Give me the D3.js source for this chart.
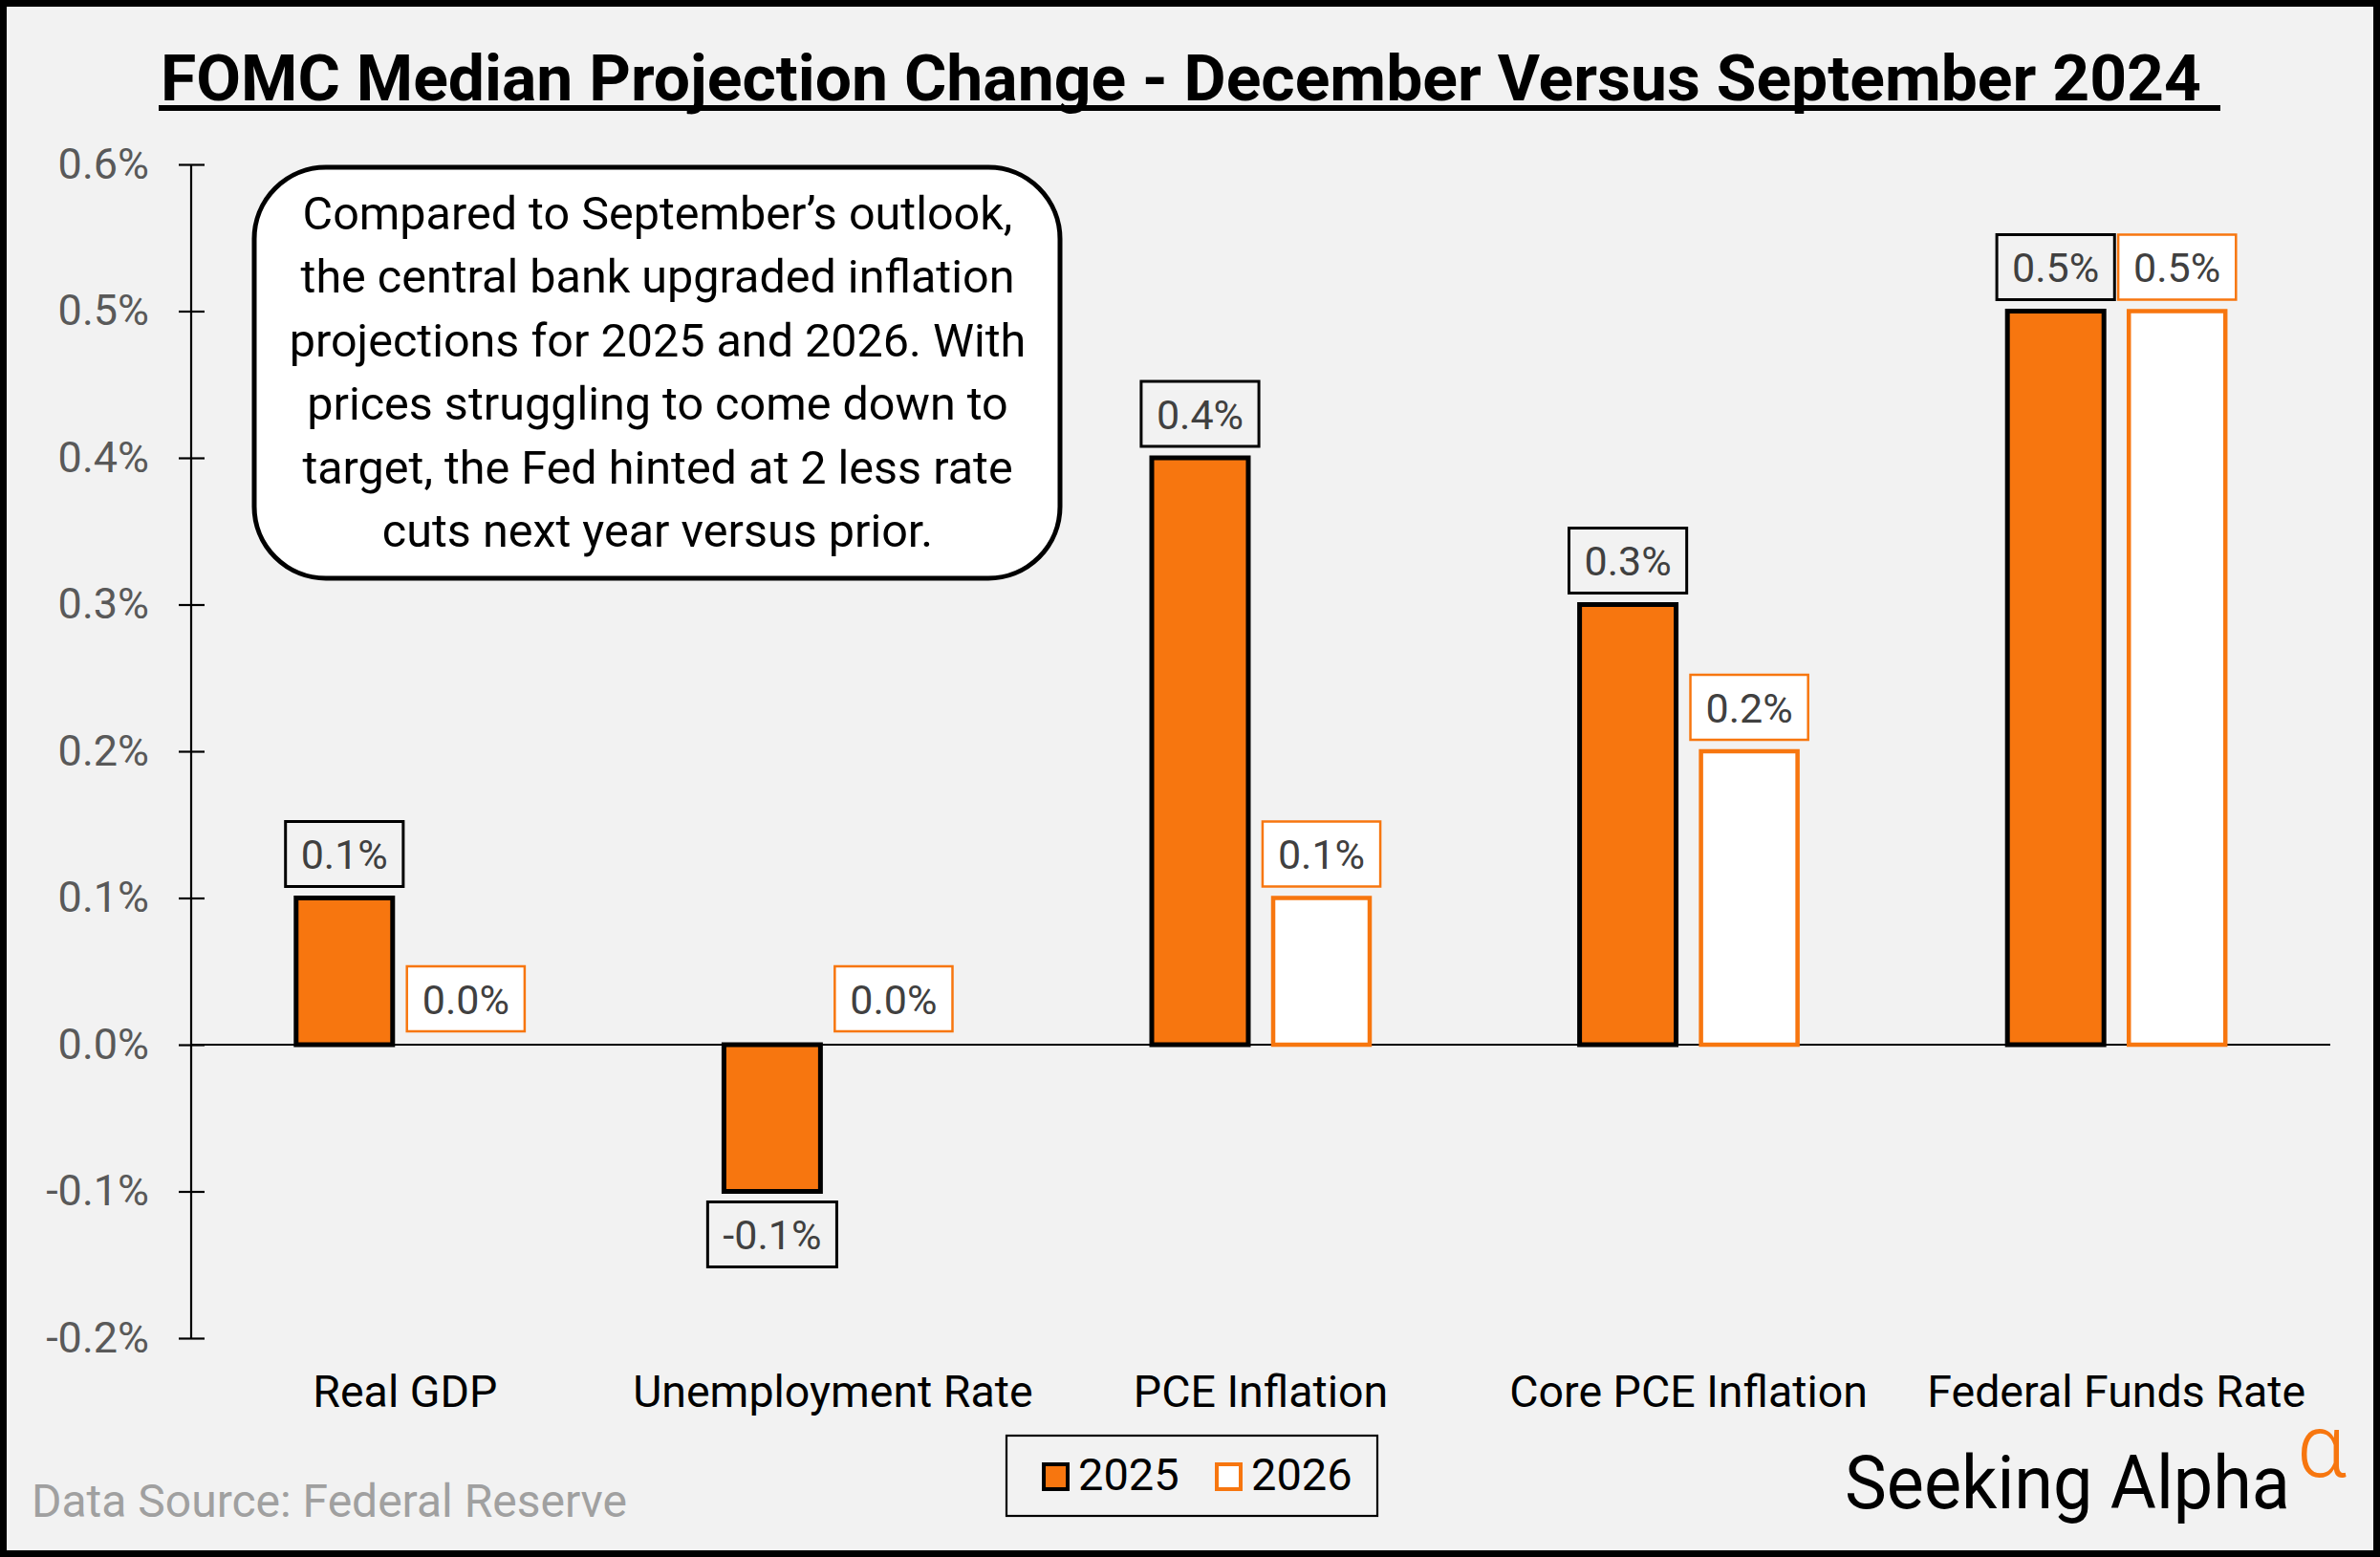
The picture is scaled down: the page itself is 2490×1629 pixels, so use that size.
<!DOCTYPE html>
<html><head><meta charset="utf-8">
<script src="https://cdn.jsdelivr.net/npm/d3@7"></script>
<style>
html,body{margin:0;padding:0;background:#f2f2f2;}
svg{display:block;font-family:Roboto,"Noto Sans",sans-serif;}
</style></head>
<body>
<svg id="chart" width="2490" height="1629"></svg>
<script>
const categories = ["Real GDP","Unemployment Rate","PCE Inflation","Core PCE Inflation","Federal Funds Rate"];
const seriesNames = ["2025","2026"];
const values2025 = [0.1,-0.1,0.4,0.3,0.5];
const values2026 = [0.0,0.0,0.1,0.2,0.5];
const yTicks = [-0.2,-0.1,0.0,0.1,0.2,0.3,0.4,0.5,0.6];
const titleText = "FOMC Median Projection Change - December Versus September 2024";
const noteLines = ["Compared to September\u2019s outlook,","the central bank upgraded inflation","projections for 2025 and 2026. With","prices struggling to come down to","target, the Fed hinted at 2 less rate","cuts next year versus prior."];
const sourceText = "Data Source: Federal Reserve";

const ORANGE = "#f7760f";
const W = 2490, H = 1629;
const svg = d3.select("#chart");
const pct = v => d3.format(".1f")(v).replace("\u2212","-") + "%";

svg.append("rect").attr("x",0).attr("y",0).attr("width",W).attr("height",H)
  .attr("fill","#f2f2f2").attr("stroke","#000").attr("stroke-width",14);

// Title
const title = svg.append("text").attr("x",168).attr("y",105)
  .attr("font-size",67).attr("font-weight",700).attr("fill","#000").text(titleText);
title.attr("textLength",2303-168).attr("lengthAdjust","spacingAndGlyphs");
svg.append("rect").attr("x",166).attr("y",110).attr("width",2323-166).attr("height",6).attr("fill","#000");

const plotL = 200, plotR = 2438;
const y = d3.scaleLinear().domain([-0.2,0.6]).range([1400,172]);
const x0 = d3.scaleBand().domain(categories).range([plotL,plotR]).padding(0);
const bw = x0.bandwidth();
const x1 = d3.scaleBand().domain(seriesNames).range([bw/2-114,bw/2+114]).paddingInner(0.205);

// Y axis
const yAxis = svg.append("g").attr("transform",`translate(${plotL},0)`)
  .call(d3.axisLeft(y).tickValues(yTicks).tickSize(13).tickPadding(31).tickFormat(pct));
yAxis.select(".domain").attr("stroke","#000").attr("stroke-width",2.2).attr("d",`M0,${y(0.6)}V${y(-0.2)}`);
yAxis.selectAll(".tick line").attr("x1",14).attr("stroke","#000").attr("stroke-width",2.2);
yAxis.selectAll(".tick text").attr("font-size",45).attr("fill","#595959").attr("font-family","Roboto");

// Zero line
svg.append("line").attr("x1",plotL).attr("x2",plotR).attr("y1",y(0)).attr("y2",y(0))
  .attr("stroke","#000").attr("stroke-width",2.2);

// Bars
const data = categories.map((c,i)=>({cat:c, vals:[{s:"2025",v:values2025[i]},{s:"2026",v:values2026[i]}]}));
const groups = svg.append("g").selectAll("g").data(data).join("g")
  .attr("transform",d=>`translate(${x0(d.cat)},0)`);
groups.selectAll("rect.bar").data(d=>d.vals.filter(e=>e.v!==0)).join("rect").attr("class","bar")
  .attr("x",d=>x1(d.s)).attr("width",x1.bandwidth())
  .attr("y",d=>y(Math.max(0,d.v))).attr("height",d=>Math.abs(y(d.v)-y(0)))
  .attr("fill",d=>d.s==="2025"?ORANGE:"#fff")
  .attr("stroke",d=>d.s==="2025"?"#000":ORANGE)
  .attr("stroke-width",d=>d.s==="2025"?5:4.5);

// Labels
groups.each(function(d){
  const g = d3.select(this);
  d.vals.forEach(e=>{
    const cx = x1(e.s)+x1.bandwidth()/2;
    const lg = g.append("g");
    const t = lg.append("text").attr("x",cx).attr("text-anchor","middle")
      .attr("font-size",43).attr("fill","#404040").text(pct(e.v));
    const tw = t.node().getComputedTextLength();
    const bh = 68, bwid = tw+32;
    let top = e.v>=0 ? y(e.v)-12-bh : y(e.v)+11;
    if(e.v===0) top = y(0)-14-bh;
    lg.insert("rect","text").attr("x",cx-bwid/2).attr("y",top).attr("width",bwid).attr("height",bh)
      .attr("fill",e.s==="2025"?"#f2f2f2":"#fff")
      .attr("stroke",e.s==="2025"?"#000":ORANGE).attr("stroke-width",e.s==="2025"?3:2.5);
    t.attr("y",top+bh/2+15.5);
  });
});

// Category labels
svg.append("g").selectAll("text").data(categories).join("text")
  .attr("x",d=>x0(d)+bw/2).attr("y",1472).attr("text-anchor","middle")
  .attr("font-size",46.5).attr("fill","#000").text(d=>d);

// Annotation box
svg.append("rect").attr("x",266).attr("y",175).attr("width",843).attr("height",430)
  .attr("rx",75).attr("ry",75).attr("fill","#fff").attr("stroke","#000").attr("stroke-width",5);
svg.append("g").selectAll("text").data(noteLines).join("text")
  .attr("x",688).attr("y",(d,i)=>240+i*66.4).attr("text-anchor","middle")
  .attr("font-size",48.5).attr("fill","#000").text(d=>d);

// Source
svg.append("text").attr("x",33).attr("y",1587).attr("font-size",48).attr("fill","#a0a0a0").text(sourceText);

// Legend
const leg = svg.append("g");
leg.append("rect").attr("x",1053).attr("y",1502).attr("width",388).attr("height",84)
  .attr("fill","#f2f2f2").attr("stroke","#000").attr("stroke-width",2.2);
const legX = [1092,1273];
seriesNames.forEach((s,i)=>{
  leg.append("rect").attr("x",legX[i]).attr("y",1532).attr("width",25).attr("height",26)
    .attr("fill",i===0?ORANGE:"#fff").attr("stroke",i===0?"#000":ORANGE).attr("stroke-width",4);
  leg.append("text").attr("x",legX[i]+36).attr("y",1559).attr("font-size",47).attr("fill","#000").text(s);
});

// Logo
svg.append("text").attr("x",1930).attr("y",1578).attr("font-size",77).attr("fill","#000")
  .attr("textLength",466).attr("lengthAdjust","spacingAndGlyphs").text("Seeking Alpha");
svg.append("text").attr("x",2403).attr("y",1545).attr("font-size",92).attr("font-weight",300)
  .attr("fill",ORANGE).text("\u03b1");
</script>
</body></html>
